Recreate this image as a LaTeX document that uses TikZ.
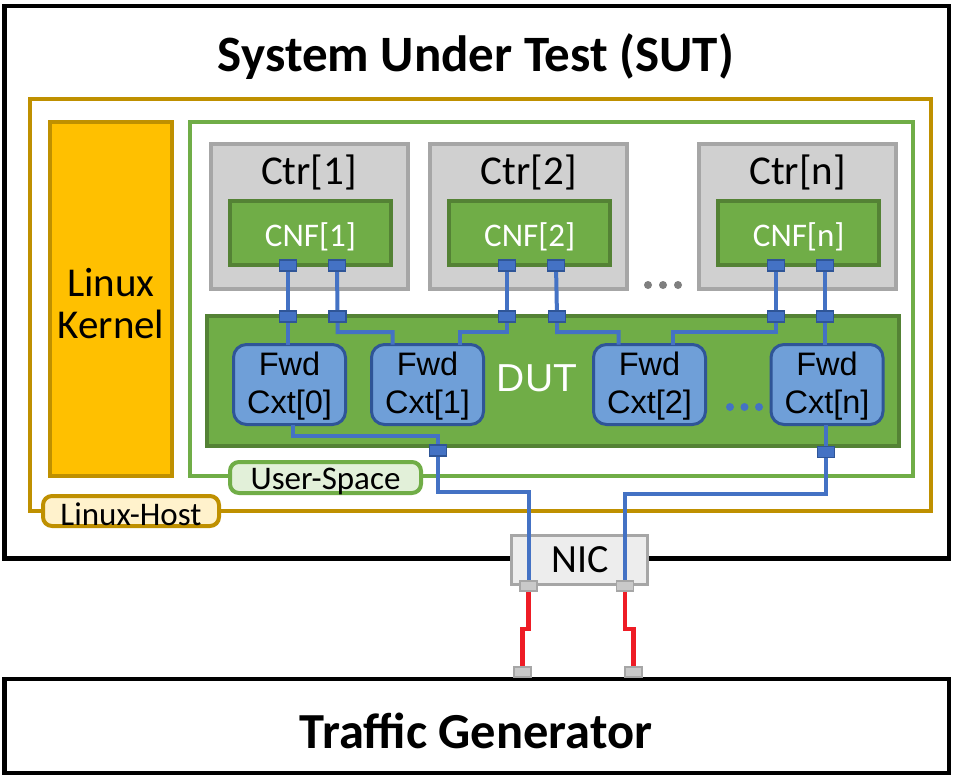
\documentclass[tikz,border=0pt]{standalone}
\usepackage{fontspec}
\setmainfont{Carlito}
\newfontfamily\arialf{Liberation Sans}
\usetikzlibrary{calc}
\definecolor{gold}{HTML}{BF9000}
\definecolor{kern}{HTML}{FFC000}
\definecolor{hostlab}{HTML}{FFF2CC}
\definecolor{grn}{HTML}{70AD47}
\definecolor{dgrn}{HTML}{548235}
\definecolor{userlab}{HTML}{E2F0D9}
\definecolor{ctrfill}{HTML}{D0D0D0}
\definecolor{ctrline}{HTML}{A6A6A6}
\definecolor{fwdfill}{HTML}{6F9FD8}
\definecolor{fwdline}{HTML}{2F5597}
\definecolor{wireblue}{HTML}{4472C4}
\definecolor{nicfill}{HTML}{EDEDED}
\definecolor{nicport}{HTML}{C9C9C9}
\definecolor{wirered}{HTML}{EE1C25}
\definecolor{dotgray}{HTML}{7F7F7F}
\pgfdeclarelayer{front}
\pgfsetlayers{main,front}
\begin{document}
\begin{tikzpicture}[x=1pt,y=-1pt,
  box/.style={rectangle,inner sep=0pt,outer sep=0pt},
  blackbox/.style={box,draw=black,line width=4.5pt,fill=white},
  hostbox/.style={box,draw=gold,line width=4pt},
  kernbox/.style={box,draw=gold,fill=kern,line width=4.5pt},
  userbox/.style={box,draw=grn,line width=4pt},
  ctrbox/.style={box,draw=ctrline,fill=ctrfill,line width=4pt,minimum width=197,minimum height=145.3},
  cnfbox/.style={box,draw=dgrn,fill=grn,line width=4pt,minimum width=161,minimum height=64},
  dutbox/.style={box,draw=dgrn,fill=grn,line width=4pt},
  fwdbox/.style={box,draw=fwdline,fill=fwdfill,line width=3pt,rounded corners=13pt,minimum width=112,minimum height=80},
  bport/.style={box,draw=fwdline,fill=wireblue,line width=1.5pt,minimum width=17,minimum height=11},
  gport/.style={box,draw=ctrline,fill=nicport,line width=1.8pt,minimum width=17,minimum height=10.5},
  nicbox/.style={box,draw=ctrline,fill=nicfill,line width=3pt},
  labbox/.style={box,rounded corners=9pt,line width=4pt},
  wire/.style={draw=wireblue,line width=4pt},
  rwire/.style={draw=wirered,line width=4.5pt},
  dot/.style={circle,inner sep=0pt,minimum size=8},
  txt/.style={inner sep=0pt,align=center},
  ctrtxt/.style={txt,font=\fontsize{41}{46}\selectfont},
  cnftxt/.style={txt,text=white,font=\fontsize{33}{38}\selectfont},
  fwdtxt/.style={txt,font=\arialf\fontsize{32.5}{38}\selectfont},
]
\useasboundingbox (0,0) rectangle (953,776);

% outer boxes
\node[blackbox,minimum width=944.5,minimum height=552.5] (sut) at (476.75,282.25) {};
\node[txt,font=\bfseries\fontsize{51}{56}\selectfont] (suttitle) at (476,57) {System Under Test (SUT)};
\node[blackbox,minimum width=944.5,minimum height=94] (tg) at (476.75,726) {};
\node[txt,font=\bfseries\fontsize{50.5}{56}\selectfont] (tgtitle) at (476,731) {Traffic Generator};

% host
\node[hostbox,minimum width=901.6,minimum height=412.6] (host) at (480.5,305) {};
\node[kernbox,minimum width=122,minimum height=354] (kernel) at (111,299) {};
\node[txt,font=\fontsize{41}{42}\selectfont] (kerneltxt) at (111,304) {Linux\\Kernel};
\node[userbox,minimum width=722.4,minimum height=354.3] (user) at (551.5,299.15) {};

% containers
\node[ctrbox] (ctr1) at (309,216.3) {};
\node[ctrbox] (ctr2) at (528.75,216.3) {};
\node[ctrbox] (ctrn) at (797.5,216.3) {};
\node[ctrtxt] (ctr1t) at (309,172) {Ctr[1]};
\node[ctrtxt] (ctr2t) at (528.75,172) {Ctr[2]};
\node[ctrtxt] (ctrnt) at (797.5,172) {Ctr[n]};
\node[cnfbox] (cnf1) at (310.5,233) {};
\node[cnfbox] (cnf2) at (529.75,233) {};
\node[cnfbox] (cnfn) at (798.75,233) {};
\node[cnftxt] (cnf1t) at (310.5,237) {CNF[1]};
\node[cnftxt] (cnf2t) at (529.75,237) {CNF[2]};
\node[cnftxt] (cnfnt) at (798.75,237) {CNF[n]};
\node[dot,fill=dotgray] (gd1) at (648,285) {};
\node[dot,fill=dotgray] (gd2) at (663,285) {};
\node[dot,fill=dotgray] (gd3) at (678,285) {};

% DUT
\node[dutbox,minimum width=692,minimum height=130] (dut) at (552.5,381) {};
\node[txt,text=white,font=\arialf\fontsize{39}{44}\selectfont] (duttxt) at (537,378) {DUT};
\node[fwdbox] (f0) at (289.5,384.5) {};
\node[fwdbox] (f1) at (427.5,384.5) {};
\node[fwdbox] (f2) at (649.5,384.5) {};
\node[fwdbox] (fn) at (827,384.5) {};
\node[fwdtxt] (f0t) at (289.5,386) {Fwd\\Cxt[0]};
\node[fwdtxt] (f1t) at (427.5,386) {Fwd\\Cxt[1]};
\node[fwdtxt] (f2t) at (649.5,386) {Fwd\\Cxt[2]};
\node[fwdtxt] (fnt) at (827,386) {Fwd\\Cxt[n]};
\node[dot,fill=wireblue] (bd1) at (730,407) {};
\node[dot,fill=wireblue] (bd2) at (744.5,407) {};
\node[dot,fill=wireblue] (bd3) at (759,407) {};

% labels
\node[labbox,draw=grn,fill=userlab,minimum width=191,minimum height=31] (userlab) at (325.5,477.5) {};
\node[txt,font=\fontsize{33}{38}\selectfont] (userlabt) at (325.5,481) {User-Space};
\node[labbox,draw=gold,fill=hostlab,minimum width=176,minimum height=30] (hostlab) at (131,511) {};
\node[txt,font=\fontsize{33}{38}\selectfont] (hostlabt) at (131,514) {Linux-Host};

% NIC
\node[nicbox,minimum width=136,minimum height=49] (nic) at (579.5,560) {};
\node[txt,font=\fontsize{40}{44}\selectfont] (nict) at (580,560) {NIC};

% ports
\begin{pgfonlayer}{front}
\node[bport] (c1a) at (288,265.5) {};
\node[bport] (c1b) at (337,265.5) {};
\node[bport] (c2a) at (507,265.5) {};
\node[bport] (c2b) at (556,265.5) {};
\node[bport] (cna) at (776,265.5) {};
\node[bport] (cnb) at (825,265.5) {};
\node[bport] (d1a) at (288,316.5) {};
\node[bport] (d1b) at (337.5,316.5) {};
\node[bport] (d2a) at (507,316.5) {};
\node[bport] (d2b) at (557,316.5) {};
\node[bport] (dna) at (776,316.5) {};
\node[bport] (dnb) at (825,316.5) {};
\node[bport] (dout0) at (438,450.5) {};
\node[bport] (doutn) at (826,452) {};
\node[gport] (na) at (528.5,586) {};
\node[gport] (nb) at (625,586) {};
\node[gport] (ta) at (522.5,672) {};
\node[gport] (tb) at (633.5,672) {};
\end{pgfonlayer}

% blue wires
\draw[wire] (c1a.center) -- (d1a.center) -- (d1a.center |- f0.north);
\draw[wire] (c1b.center) -- (d1b.center) -- ++(0,15.5) -| ([xshift=21pt]f1.north west);
\draw[wire] (c2a.center) -- (d2a.center) -- ++(0,15.5) -| ([xshift=-24pt]f1.north east);
\draw[wire] (c2b.center) -- (d2b.center) -- ++(0,15.5) -| ([xshift=25pt]f2.north west);
\draw[wire] (cna.center) -- (dna.center) -- ++(0,15.5) -| ([xshift=-33pt]f2.north east);
\draw[wire] (cnb.center) -- (dnb.center) -- (dnb.center |- fn.north);
\draw[wire] ([xshift=3.5pt]f0.south) -- ++(0,11) -| (dout0.center) -- ++(0,41) -| (na.center);
\draw[wire] (doutn.center |- fn.south) -- (doutn.center) -- ++(0,42) -| (nb.center);

% red wires
\draw[rwire] (na.center) -- ++(0,43) -| (ta.center);
\draw[rwire] (nb.center) -- ++(0,43) -| (tb.center);
\end{tikzpicture}
\end{document}
